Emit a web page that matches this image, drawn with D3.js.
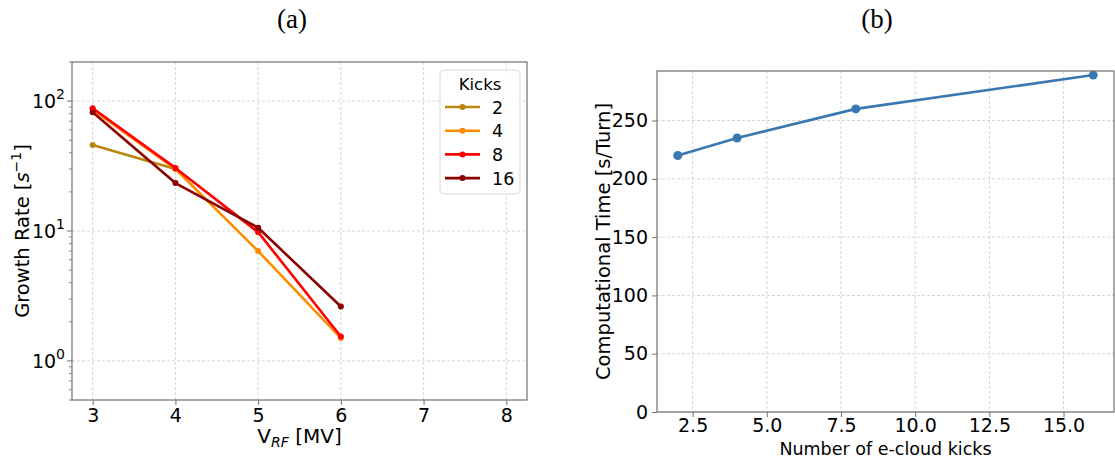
<!DOCTYPE html>
<html>
<head>
<meta charset="utf-8">
<script src="https://cdn.jsdelivr.net/npm/d3@7"></script>
<style>
  html, body { margin: 0; padding: 0; background: #fff; }
  svg text { font-family: "DejaVu Sans", sans-serif; fill: #000; }
  .title { font-family: "Liberation Serif", "DejaVu Serif", serif; }
</style>
</head>
<body>
<svg id="chart" width="1115" height="460"></svg>
<script>
// ---- data: growth rate vs RF voltage (panel a) ----
const voltages = [3, 4, 5, 6];
const kickLabels = ["2", "4", "8", "16"];
const rateKicks2 = [46, 30];
const rateKicks4 = [86, 30, 7.0, 1.5];
const rateKicks8 = [88, 30.6, 9.8, 1.54];
const rateKicks16 = [82, 23.4, 10.6, 2.62];
const kickColors = ["#b8860b", "#ff8c00", "#ff0000", "#8b0000"];

// ---- data: computational time vs number of kicks (panel b) ----
const kickCounts = [2, 4, 8, 16];
const compTime = [220, 235, 260, 289];

// ---- tick values ----
const voltTicks = [3, 4, 5, 6, 7, 8];
const rateTicks = [1, 10, 100];
const kickTicks = [2.5, 5.0, 7.5, 10.0, 12.5, 15.0];
const timeTicks = [0, 50, 100, 150, 200, 250];

const svg = d3.select("#chart");
const gridColor = "#cccccc";
const spineColor = "#707070";
const tickFont = 19;

function spines(g, x0, x1, y0, y1) {
  g.append("rect").attr("x", x0).attr("y", y0)
    .attr("width", x1 - x0).attr("height", y1 - y0)
    .attr("fill", "none").attr("stroke", spineColor).attr("stroke-width", 1.2);
}

// ================= panel (a) =================
const A = { left: 72, right: 527, top: 62, bottom: 400 };
const xA = d3.scaleLinear().domain([2.75, 8.25]).range([A.left, A.right]);
const yA = d3.scaleLog().domain([0.5, 200]).range([A.bottom, A.top]);
const gA = svg.append("g");

// grid
gA.selectAll(".gx").data(voltTicks).join("line")
  .attr("x1", d => xA(d)).attr("x2", d => xA(d))
  .attr("y1", A.top).attr("y2", A.bottom)
  .attr("stroke", gridColor).attr("stroke-width", 0.8).attr("stroke-dasharray", "3,2");
gA.selectAll(".gy").data(rateTicks).join("line")
  .attr("x1", A.left).attr("x2", A.right)
  .attr("y1", d => yA(d)).attr("y2", d => yA(d))
  .attr("stroke", gridColor).attr("stroke-width", 0.8).attr("stroke-dasharray", "3,2");

// series
const seriesA = [rateKicks2, rateKicks4, rateKicks8, rateKicks16];
const lineA = d3.line().x(d => xA(d[0])).y(d => yA(d[1]));
seriesA.forEach((vals, i) => {
  const pts = vals.map((v, j) => [voltages[j], v]);
  gA.append("path").datum(pts).attr("d", lineA)
    .attr("fill", "none").attr("stroke", kickColors[i]).attr("stroke-width", 2.6)
    .attr("stroke-linejoin", "round");
  gA.selectAll(null).data(pts).join("circle")
    .attr("cx", d => xA(d[0])).attr("cy", d => yA(d[1])).attr("r", 3)
    .attr("fill", kickColors[i]);
});

spines(gA, A.left, A.right, A.top, A.bottom);

// x axis
const axA = d3.axisBottom(xA).tickValues(voltTicks).tickSize(5).tickPadding(4).tickFormat(d3.format("d"));
const gxA = gA.append("g").attr("transform", `translate(0,${A.bottom})`).call(axA);
gxA.select(".domain").remove();
gxA.selectAll("line").attr("stroke", spineColor);
gxA.selectAll("text").attr("font-size", tickFont).attr("font-family", "DejaVu Sans");

// y axis (log) with minor ticks
const minorA = [];
[0.1, 1, 10, 100].forEach(dec => {
  for (let k = 2; k <= 9; k++) {
    const v = dec * k;
    if (v >= 0.5 && v <= 200) minorA.push(v);
  }
});
gA.selectAll(".mt").data(minorA).join("line")
  .attr("x1", A.left - 3).attr("x2", A.left)
  .attr("y1", d => yA(d)).attr("y2", d => yA(d))
  .attr("stroke", spineColor).attr("stroke-width", 0.8);
gA.selectAll(".Mt").data(rateTicks).join("line")
  .attr("x1", A.left - 5).attr("x2", A.left)
  .attr("y1", d => yA(d)).attr("y2", d => yA(d))
  .attr("stroke", spineColor).attr("stroke-width", 1);
const yLab = gA.selectAll(".yl").data(rateTicks).join("text")
  .attr("x", A.left - 7).attr("y", d => yA(d) + 7)
  .attr("text-anchor", "end").attr("font-size", tickFont);
yLab.append("tspan").text("10");
yLab.append("tspan").attr("dy", -9).attr("font-size", 14).text(d => Math.round(Math.log10(d)));

// axis labels
const xlA = gA.append("text").attr("x", (A.left + A.right) / 2).attr("y", 443)
  .attr("text-anchor", "middle").attr("font-size", 20);
xlA.append("tspan").text("V");
xlA.append("tspan").attr("dy", 4).attr("font-size", 14).attr("font-style", "italic").text("RF");
xlA.append("tspan").attr("dy", -4).text(" [MV]");

const ylA = gA.append("text")
  .attr("transform", `translate(29,${(A.top + A.bottom) / 2}) rotate(-90)`)
  .attr("text-anchor", "middle").attr("font-size", 19.5);
ylA.append("tspan").text("Growth Rate [");
ylA.append("tspan").attr("font-style", "italic").text("s");
ylA.append("tspan").attr("dy", -8).attr("font-size", 14).text("−1");
ylA.append("tspan").attr("dy", 8).text("]");

// legend
const leg = gA.append("g");
leg.append("rect").attr("x", 440).attr("y", 70).attr("width", 80).attr("height", 124)
  .attr("rx", 4).attr("fill", "#fff").attr("fill-opacity", 0.85)
  .attr("stroke", "#d8d8d8");
leg.append("text").attr("x", 480).attr("y", 90).attr("text-anchor", "middle")
  .attr("font-size", 16.5).text("Kicks");
kickLabels.forEach((lab, i) => {
  const yy = 107 + i * 23.7;
  leg.append("line").attr("x1", 445).attr("x2", 480).attr("y1", yy).attr("y2", yy)
    .attr("stroke", kickColors[i]).attr("stroke-width", 2.6);
  leg.append("circle").attr("cx", 462.5).attr("cy", yy).attr("r", 3).attr("fill", kickColors[i]);
  leg.append("text").attr("x", 492).attr("y", yy + 6.5).attr("font-size", 17.5).text(lab);
});

svg.append("text").attr("class", "title").attr("x", 292).attr("y", 28)
  .attr("text-anchor", "middle").attr("font-size", 27).text("(a)");

// ================= panel (b) =================
const B = { left: 657, right: 1114, top: 71, bottom: 412 };
const xB = d3.scaleLinear().domain([1.3, 16.7]).range([B.left, B.right]);
const yB = d3.scaleLinear().domain([0, 292.5]).range([B.bottom, B.top]);
const gB = svg.append("g");

gB.selectAll(".gx").data(kickTicks).join("line")
  .attr("x1", d => xB(d)).attr("x2", d => xB(d))
  .attr("y1", B.top).attr("y2", B.bottom)
  .attr("stroke", gridColor).attr("stroke-width", 0.8).attr("stroke-dasharray", "3,2");
gB.selectAll(".gy").data(timeTicks).join("line")
  .attr("x1", B.left).attr("x2", B.right)
  .attr("y1", d => yB(d)).attr("y2", d => yB(d))
  .attr("stroke", gridColor).attr("stroke-width", 0.8).attr("stroke-dasharray", "3,2");

const ptsB = kickCounts.map((k, i) => [k, compTime[i]]);
gB.append("path").datum(ptsB)
  .attr("d", d3.line().x(d => xB(d[0])).y(d => yB(d[1])))
  .attr("fill", "none").attr("stroke", "#3a78b2").attr("stroke-width", 2.6);
gB.selectAll(null).data(ptsB).join("circle")
  .attr("cx", d => xB(d[0])).attr("cy", d => yB(d[1])).attr("r", 4.5)
  .attr("fill", "#3a78b2");

spines(gB, B.left, B.right, B.top, B.bottom);

const gxB = gB.append("g").attr("transform", `translate(0,${B.bottom})`)
  .call(d3.axisBottom(xB).tickValues(kickTicks).tickSize(5).tickPadding(2).tickFormat(d3.format(".1f")));
gxB.select(".domain").remove();
gxB.selectAll("line").attr("stroke", spineColor);
gxB.selectAll("text").attr("font-size", tickFont).attr("font-family", "DejaVu Sans");

const gyB = gB.append("g").attr("transform", `translate(${B.left},0)`)
  .call(d3.axisLeft(yB).tickValues(timeTicks).tickSize(5).tickPadding(4));
gyB.select(".domain").remove();
gyB.selectAll("line").attr("stroke", spineColor);
gyB.selectAll("text").attr("font-size", tickFont).attr("font-family", "DejaVu Sans");

gB.append("text").attr("x", (B.left + B.right) / 2).attr("y", 455)
  .attr("text-anchor", "middle").attr("font-size", 17.5).text("Number of e-cloud kicks");
gB.append("text")
  .attr("transform", `translate(610,${(B.top + B.bottom) / 2}) rotate(-90)`)
  .attr("text-anchor", "middle").attr("font-size", 19.5).text("Computational Time [s/Turn]");

svg.append("text").attr("class", "title").attr("x", 877).attr("y", 28)
  .attr("text-anchor", "middle").attr("font-size", 27).text("(b)");
</script>
</body>
</html>
